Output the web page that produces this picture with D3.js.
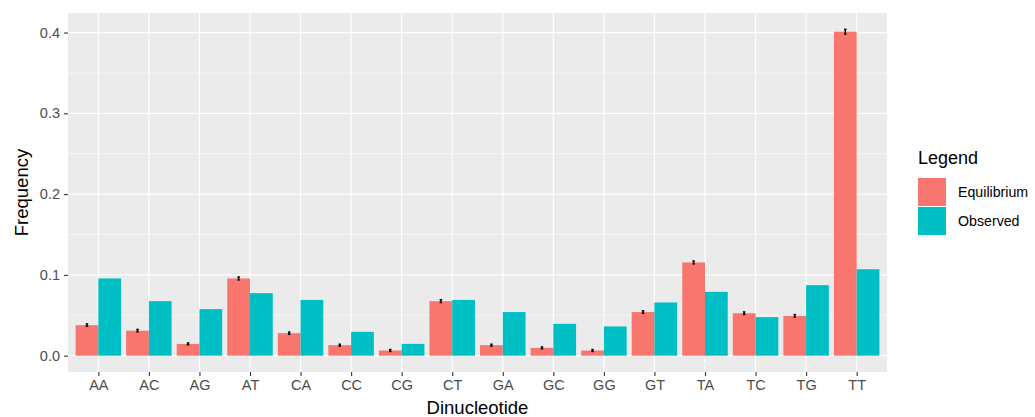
<!DOCTYPE html>
<html>
<head>
<meta charset="utf-8">
<script src="https://cdn.jsdelivr.net/npm/d3@7"></script>
<style>
  html, body { margin: 0; padding: 0; background: #fff; }
  svg { display: block; font-family: "Liberation Sans", Arial, sans-serif; }
</style>
</head>
<body>
<svg id="chart" width="1035" height="417"></svg>
<script>
// Dinucleotide frequencies: equilibrium (with uncertainty) vs observed
const categories = ["AA","AC","AG","AT","CA","CC","CG","CT","GA","GC","GG","GT","TA","TC","TG","TT"];
const equilibrium = [0.0378, 0.0310, 0.0146, 0.0956, 0.0279, 0.0130, 0.0064, 0.0675, 0.0130, 0.0097, 0.0064, 0.0540, 0.1154, 0.0526, 0.0493, 0.4010];
const equilibriumErr = [0.0015, 0.0015, 0.0012, 0.0018, 0.0014, 0.0012, 0.0012, 0.0018, 0.0012, 0.0012, 0.0012, 0.0016, 0.0018, 0.0016, 0.0016, 0.0030];
const observed = [0.0956, 0.0675, 0.0576, 0.0774, 0.0690, 0.0295, 0.0146, 0.0690, 0.0540, 0.0394, 0.0362, 0.0659, 0.0790, 0.0477, 0.0873, 0.1070];
const seriesNames = ["Equilibrium", "Observed"];
const seriesColors = ["#F8766D", "#00BFC4"];
const yTicks = [0.0, 0.1, 0.2, 0.3, 0.4];
const yMinor = [0.05, 0.15, 0.25, 0.35];

const svg = d3.select("#chart");
const panel = { left: 68, right: 887, top: 13, bottom: 372 };

// discrete x scale with ggplot-style 0.6 expansion on each side
const n = categories.length;
const x = d3.scaleLinear().domain([-0.6, n - 1 + 0.6]).range([panel.left, panel.right]);
const xPos = d3.scaleOrdinal().domain(categories).range(d3.range(n));

const dataMax = d3.max(equilibrium.map((v, i) => v + equilibriumErr[i]).concat(observed));
const pad = dataMax * 0.05;
const y = d3.scaleLinear().domain([0 - pad, dataMax + pad]).range([panel.bottom, panel.top]);

const g = svg.append("g");

// panel background
g.append("rect")
  .attr("x", panel.left).attr("y", panel.top)
  .attr("width", panel.right - panel.left).attr("height", panel.bottom - panel.top)
  .attr("fill", "#EBEBEB");

// grid lines
g.selectAll("line.minor").data(yMinor).enter().append("line")
  .attr("x1", panel.left).attr("x2", panel.right)
  .attr("y1", d => y(d)).attr("y2", d => y(d))
  .attr("stroke", "#fff").attr("stroke-width", 0.6);
g.selectAll("line.majorY").data(yTicks).enter().append("line")
  .attr("x1", panel.left).attr("x2", panel.right)
  .attr("y1", d => y(d)).attr("y2", d => y(d))
  .attr("stroke", "#fff").attr("stroke-width", 1.2);
g.selectAll("line.majorX").data(categories).enter().append("line")
  .attr("x1", d => x(xPos(d))).attr("x2", d => x(xPos(d)))
  .attr("y1", panel.top).attr("y2", panel.bottom)
  .attr("stroke", "#fff").attr("stroke-width", 1.2);

// dodged bars: total width 0.9 of a category step
const barW = 0.45;
const rows = [];
categories.forEach((c, i) => {
  rows.push({ cat: c, s: 0, v: equilibrium[i], off: -barW });
  rows.push({ cat: c, s: 1, v: observed[i], off: 0 });
});
g.selectAll("rect.bar").data(rows).enter().append("rect")
  .attr("x", d => x(xPos(d.cat) + d.off))
  .attr("width", d => x(barW) - x(0))
  .attr("y", d => y(d.v))
  .attr("height", d => y(0) - y(d.v))
  .attr("fill", d => seriesColors[d.s]);

// error bars on the equilibrium series
const capHalf = 0.025;
const eb = g.selectAll("g.err").data(categories).enter().append("g")
  .attr("stroke", "#000").attr("stroke-width", 1.4);
eb.append("line")
  .attr("x1", (d, i) => x(i - barW / 2)).attr("x2", (d, i) => x(i - barW / 2))
  .attr("y1", (d, i) => y(equilibrium[i] - equilibriumErr[i]))
  .attr("y2", (d, i) => y(equilibrium[i] + equilibriumErr[i]));
["-", "+"].forEach(sign => {
  eb.append("line")
    .attr("x1", (d, i) => x(i - barW / 2 - capHalf)).attr("x2", (d, i) => x(i - barW / 2 + capHalf))
    .attr("y1", (d, i) => y(equilibrium[i] + (sign === "+" ? 1 : -1) * equilibriumErr[i]))
    .attr("y2", (d, i) => y(equilibrium[i] + (sign === "+" ? 1 : -1) * equilibriumErr[i]));
});

// y axis
const yAxis = d3.axisLeft(y).tickValues(yTicks).tickFormat(d3.format(".1f")).tickSize(4).tickPadding(4);
const ya = svg.append("g").attr("transform", `translate(${panel.left},0)`).call(yAxis);
ya.select(".domain").remove();
ya.selectAll(".tick line").attr("stroke", "#333").attr("stroke-width", 1.1);
ya.selectAll(".tick text").attr("fill", "#4D4D4D").attr("font-size", 14.5).attr("font-family", "Liberation Sans, Arial, sans-serif");

// x axis
const xAxis = d3.axisBottom(x).tickValues(d3.range(n)).tickFormat(i => categories[i]).tickSize(4).tickPadding(4);
const xa = svg.append("g").attr("transform", `translate(0,${panel.bottom})`).call(xAxis);
xa.select(".domain").remove();
xa.selectAll(".tick line").attr("stroke", "#333").attr("stroke-width", 1.1);
xa.selectAll(".tick text").attr("fill", "#4D4D4D").attr("font-size", 14.5).attr("font-family", "Liberation Sans, Arial, sans-serif");

// axis titles
svg.append("text")
  .attr("x", (panel.left + panel.right) / 2).attr("y", 414)
  .attr("text-anchor", "middle").attr("font-size", 18.5).attr("fill", "#000")
  .text("Dinucleotide");
svg.append("text")
  .attr("transform", `translate(28,${(panel.top + panel.bottom) / 2}) rotate(-90)`)
  .attr("text-anchor", "middle").attr("font-size", 18.5).attr("fill", "#000")
  .text("Frequency");

// legend
const lg = svg.append("g").attr("transform", "translate(918,0)");
lg.append("text").attr("x", 0).attr("y", 164).attr("font-size", 18).attr("fill", "#000").text("Legend");
seriesNames.forEach((name, i) => {
  lg.append("rect").attr("x", 0).attr("y", 178 + i * 29).attr("width", 28).attr("height", 28)
    .attr("fill", seriesColors[i]);
  lg.append("text").attr("x", 40).attr("y", 197 + i * 29).attr("font-size", 14.2).attr("fill", "#000")
    .text(name);
});
</script>
</body>
</html>
